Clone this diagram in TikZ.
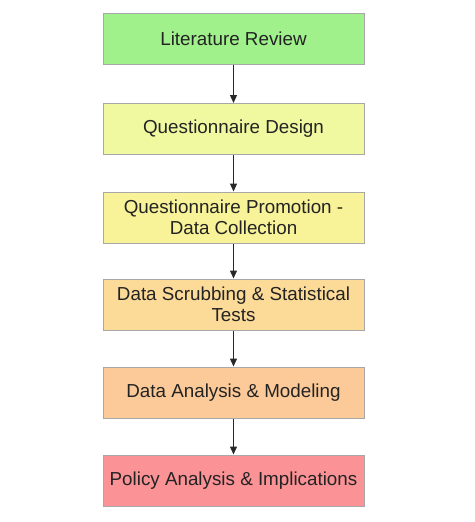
\documentclass[tikz,border=0pt]{standalone}
\usepackage{fontspec}
\setmainfont{Liberation Sans}
\usetikzlibrary{arrows.meta}
\definecolor{c1}{RGB}{160,240,140}
\definecolor{c2}{RGB}{240,248,160}
\definecolor{c3}{RGB}{248,242,152}
\definecolor{c4}{RGB}{252,218,152}
\definecolor{c5}{RGB}{252,202,152}
\definecolor{c6}{RGB}{250,146,150}
\definecolor{bord}{RGB}{168,168,168}
\definecolor{txt}{RGB}{35,35,35}
\definecolor{arr}{RGB}{40,40,40}
\tikzset{
  stepbox/.style={draw=bord, line width=1pt, minimum width=261pt, minimum height=51pt,
    inner sep=2pt, align=center, text=txt, font=\fontsize{18.8}{21.5}\selectfont},
  flow/.style={draw=arr, line width=1.3pt, -{Triangle[width=7pt,length=8pt]}}
}
\begin{document}
\begin{tikzpicture}[x=1pt,y=-1pt]
\useasboundingbox (0,0) rectangle (474,522);
\node[stepbox, fill=c1] (a) at (233.5,38.5) {Literature Review};
\node[stepbox, fill=c2] (b) at (233.5,129) {Questionnaire Design};
\node[stepbox, fill=c3] (c) at (233.5,217.5) {Questionnaire Promotion -\\Data Collection};
\node[stepbox, fill=c4] (d) at (233.5,304.5) {Data Scrubbing \& Statistical\\Tests};
\node[stepbox, fill=c5] (e) at (233.5,392.5) {Data Analysis \& Modeling};
\node[stepbox, fill=c6] (f) at (233.5,480.5) {Policy Analysis \& Implications};
\draw[flow] (a) -- (b);
\draw[flow] (b) -- (c);
\draw[flow] (c) -- (d);
\draw[flow] (d) -- (e);
\draw[flow] (e) -- (f);
\end{tikzpicture}
\end{document}
